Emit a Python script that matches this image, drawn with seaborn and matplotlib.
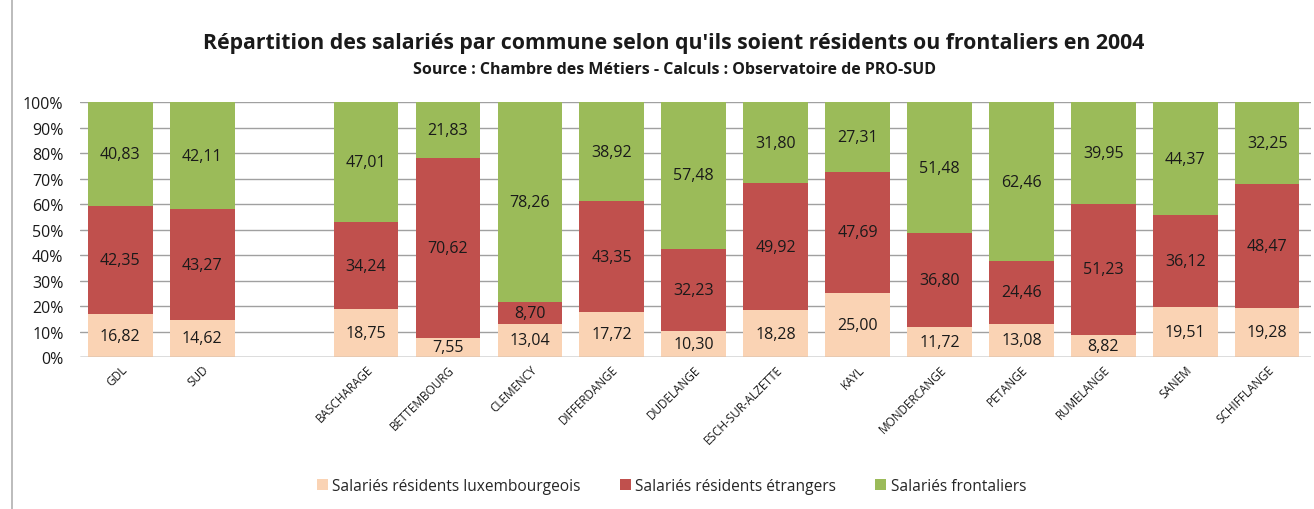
import matplotlib
matplotlib.use("Agg")
import matplotlib.pyplot as plt
import seaborn as sns
import pandas as pd
import numpy as np
from matplotlib.lines import Line2D
from matplotlib.patches import Patch

communes = ["GDL", "SUD", " ", "BASCHARAGE", "BETTEMBOURG", "CLEMENCY", "DIFFERDANGE",
            "DUDELANGE", "ESCH-SUR-ALZETTE", "KAYL", "MONDERCANGE", "PETANGE",
            "RUMELANGE", "SANEM", "SCHIFFLANGE"]
data_communes = ["GDL", "SUD", "BASCHARAGE", "BETTEMBOURG", "CLEMENCY", "DIFFERDANGE",
                 "DUDELANGE", "ESCH-SUR-ALZETTE", "KAYL", "MONDERCANGE", "PETANGE",
                 "RUMELANGE", "SANEM", "SCHIFFLANGE"]
lux = [16.82, 14.62, 18.75, 7.55, 13.04, 17.72, 10.30, 18.28, 25.00, 11.72, 13.08, 8.82, 19.51, 19.28]
etr = [42.35, 43.27, 34.24, 70.62, 8.70, 43.35, 32.23, 49.92, 47.69, 36.80, 24.46, 51.23, 36.12, 48.47]
fro = [40.83, 42.11, 47.01, 21.83, 78.26, 38.92, 57.48, 31.80, 27.31, 51.48, 62.46, 39.95, 44.37, 32.25]
series_names = ["Salariés résidents luxembourgeois", "Salariés résidents étrangers", "Salariés frontaliers"]
colors = ["#FAD3B4", "#C0504D", "#9BBB59"]

df = pd.DataFrame({"commune": data_communes, "lux": lux, "etr": etr, "fro": fro})
df["c1"] = df["lux"]
df["c2"] = df["lux"] + df["etr"]
df["c3"] = (df["lux"] + df["etr"] + df["fro"]).clip(upper=100)

sns.set_style("white")
plt.rcParams["font.family"] = ["Open Sans", "DejaVu Sans"]

fig = plt.figure(figsize=(13.14, 5.10), dpi=100)
ax = fig.add_axes([0.061, 0.298, 0.937, 0.500])

for col, c in zip(["c3", "c2", "c1"], [colors[2], colors[1], colors[0]]):
    sns.barplot(data=df, x="commune", y=col, order=communes, color=c,
                width=0.79, saturation=1, ax=ax, zorder=3, linewidth=0)

pos = {c: i for i, c in enumerate(communes)}
for _, r in df.iterrows():
    x = pos[r["commune"]]
    mids = [r["lux"] / 2, r["lux"] + r["etr"] / 2, r["lux"] + r["etr"] + r["fro"] / 2]
    for v, m in zip([r["lux"], r["etr"], r["fro"]], mids):
        ax.text(x, m, f"{v:.2f}".replace(".", ","), ha="center", va="center",
                fontsize=11.5, color="#1a1a1a", zorder=5)

ax.set_xlim(-0.49, 14.54)
ax.set_ylim(0, 100)
ax.set_yticks(np.arange(0, 101, 10))
ax.set_yticklabels([f"{v}%" for v in range(0, 101, 10)], fontsize=11.5, color="#1a1a1a")
ax.yaxis.grid(True, color="#a0a0a0", linewidth=1, zorder=0)
ax.set_axisbelow(True)
for s in ax.spines.values():
    s.set_visible(False)
ax.axhline(0, color="#a0a0a0", linewidth=1, zorder=4)
ax.tick_params(axis="y", length=0, pad=12)
ax.tick_params(axis="x", length=0, pad=4)
ax.set_xlabel("")
ax.set_ylabel("")
plt.setp(ax.get_xticklabels(), rotation=45, ha="right", rotation_mode="anchor",
         fontsize=8.5, color="#1a1a1a")

fig.text(0.513, 0.915, "Répartition des salariés par commune selon qu'ils soient résidents ou frontaliers en 2004",
         ha="center", va="center", fontsize=15.3, fontweight="bold", color="#1a1a1a")
fig.text(0.513, 0.862, "Source : Chambre des Métiers - Calculs : Observatoire de PRO-SUD",
         ha="center", va="center", fontsize=11.5, fontweight="bold", color="#1a1a1a")

handles = [Patch(facecolor=c, edgecolor="none") for c in colors]
fig.legend(handles, series_names, loc="center", bbox_to_anchor=(0.511, 0.045), ncol=3,
           frameon=False, fontsize=11.2, handlelength=0.7, handleheight=0.7,
           columnspacing=2.5, handletextpad=0.3)

fig.add_artist(Line2D([0.0095, 0.0095], [0, 1], transform=fig.transFigure, color="#b0b0b0", linewidth=1.2))

fig.savefig("out.png", dpi=100)
